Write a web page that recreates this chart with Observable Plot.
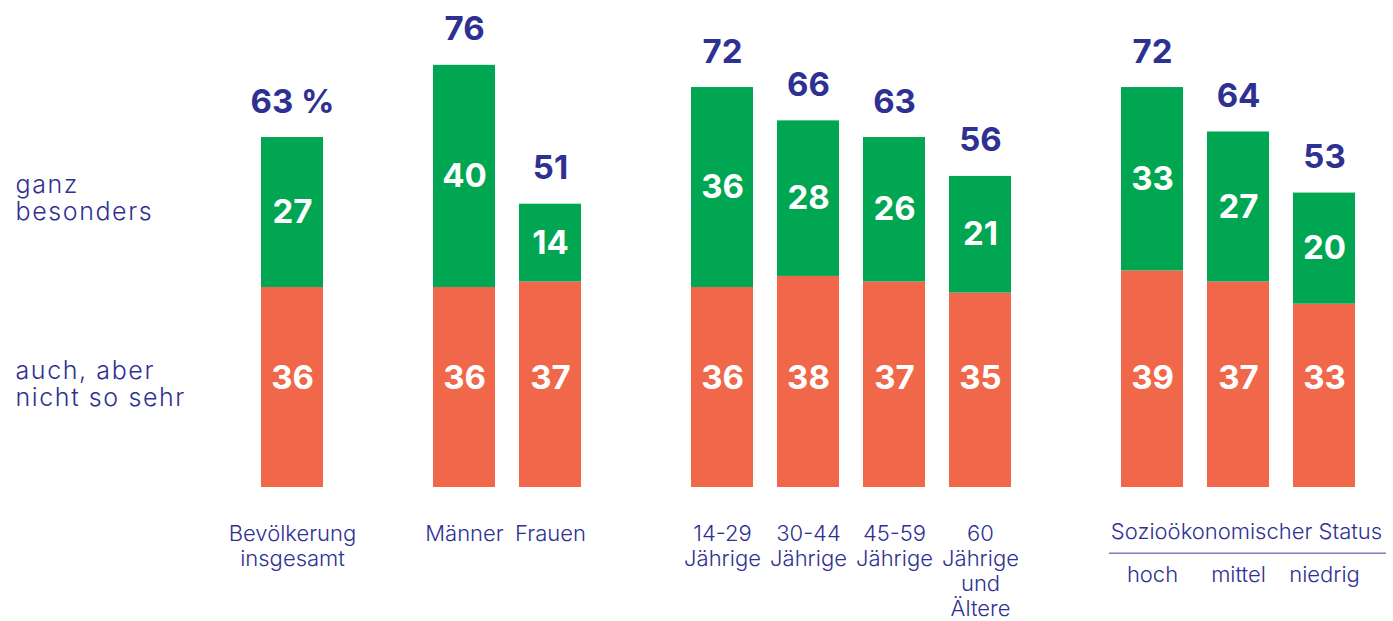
<!DOCTYPE html>
<html><head><meta charset="utf-8">
<script src="https://cdn.jsdelivr.net/npm/d3@7"></script>
<script src="https://cdn.jsdelivr.net/npm/@observablehq/plot@0.6"></script>
<style>body{margin:0;background:#fff;}</style>
</head><body><div id="chart"></div>
<script>
const categories = ["Bevölkerung insgesamt", "Männer", "Frauen", "14-29 Jährige", "30-44 Jährige", "45-59 Jährige", "60 Jährige und Ältere", "hoch", "mittel", "niedrig"];
const categoryLabels = ["Bevölkerung\ninsgesamt", "Männer", "Frauen", "14-29\nJährige", "30-44\nJährige", "45-59\nJährige", "60\nJährige\nund\nÄltere", "hoch", "mittel", "niedrig"];
const groups = ["gesamt", "geschlecht", "geschlecht", "alter", "alter", "alter", "alter", "status", "status", "status"];
const ganzBesonders = [27, 40, 14, 36, 28, 26, 21, 33, 27, 20];
const auchAber = [36, 36, 37, 36, 38, 37, 35, 39, 37, 33];
const totals = [63, 76, 51, 72, 66, 63, 56, 72, 64, 53];
const statusHeader = "Sozioökonomischer Status";
const legendTop = "ganz\nbesonders";
const legendBottom = "auch, aber\nnicht so sehr";

const navy = "#2e3192";
const green = "#00a651";
const orange = "#f0674a";
const font = "Inter, 'Noto Sans', sans-serif";

const rows = categories.map((c, i) => ({category: c, label: categoryLabels[i], group: groups[i], ganz: ganzBesonders[i], auch: auchAber[i], total: totals[i]}));
const domain = [];
rows.forEach((r, i) => { if (i > 0 && r.group !== rows[i - 1].group) domain.push(" gap" + i); domain.push(r.category); });
const stacked = rows.flatMap(r => [
  {category: r.category, series: "auch", value: r.auch},
  {category: r.category, series: "ganz", value: r.ganz}
]);
const statusRows = rows.filter(r => r.group === "status");
const otherRows = rows.filter(r => r.group !== "status");

const chart = Plot.plot({
  width: 1393,
  height: 621,
  marginLeft: 255.8,
  marginRight: 32.4,
  marginTop: 42.6,
  marginBottom: 134,
  style: {fontFamily: font, background: "white", overflow: "visible"},
  x: {type: "band", domain, paddingInner: 0.2744, paddingOuter: 0, axis: null},
  y: {domain: [0, 80], axis: null},
  color: {domain: ["auch", "ganz"], range: [orange, green]},
  marks: [
    Plot.barY(stacked, {x: "category", y: "value", fill: "series", order: ["auch", "ganz"]}),
    Plot.text(rows, {x: "category", y: d => d.auch + d.ganz / 2, text: d => String(d.ganz), fill: "white", fontWeight: 700, fontSize: 33, fontFamily: font}),
    Plot.text(rows, {x: "category", y: 19.7, text: d => String(d.auch), fill: "white", fontWeight: 700, fontSize: 33, fontFamily: font}),
    Plot.text(rows, {x: "category", y: "total", text: (d, i) => i === 0 ? d.total + " %" : String(d.total), lineAnchor: "bottom", dy: -25, fill: navy, fontWeight: 700, fontSize: 33, fontFamily: font}),
    Plot.text(otherRows, {x: "category", y: 0, text: "label", lineAnchor: "top", dy: 36, lineHeight: 1.13, fontSize: 22, fontWeight: 300, fill: navy, fontFamily: font}),
    Plot.text(statusRows, {x: "category", y: 0, text: "label", lineAnchor: "top", dy: 79, fontSize: 22, fontWeight: 300, fill: navy, fontFamily: font}),
    Plot.text([statusHeader], {x: () => statusRows[1].category, y: 0, text: d => d, lineAnchor: "top", dy: 36, dx: 8, fontSize: 22, fontWeight: 300, fill: navy, fontFamily: font}),
    Plot.ruleY([0], {x1: () => statusRows[0].category, x2: () => statusRows[statusRows.length - 1].category, dy: 65.7, insetLeft: -12, insetRight: -31, stroke: "#7b7fbf", strokeWidth: 1.5}),
    Plot.text([legendTop], {frameAnchor: "left", y: 56.6, dx: -240.8, text: d => d, textAnchor: "start", lineAnchor: "top", fontSize: 25, lineHeight: 1.1, fontWeight: 300, fill: navy, fontFamily: font}),
    Plot.text([legendBottom], {frameAnchor: "left", y: 23.1, dx: -240.8, text: d => d, textAnchor: "start", lineAnchor: "top", fontSize: 25, lineHeight: 1.1, fontWeight: 300, fill: navy, fontFamily: font})
  ]
});
// widen the two left-hand legend texts a little, like the wide original typeface
const textGroups = chart.querySelectorAll('g[aria-label="text"]');
Array.from(textGroups).slice(-2).forEach(g => g.style.letterSpacing = "1.6px");
document.getElementById("chart").appendChild(chart);
</script>
</body></html>
